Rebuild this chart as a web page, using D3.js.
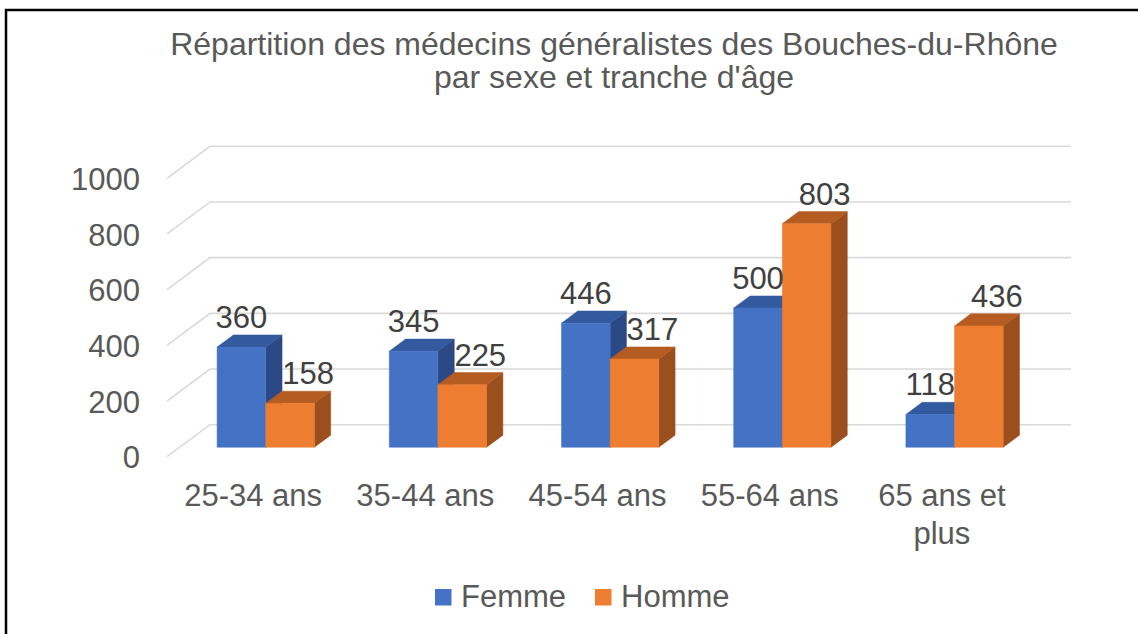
<!DOCTYPE html>
<html>
<head>
<meta charset="utf-8">
<script src="https://cdn.jsdelivr.net/npm/d3@7"></script>
<style>
  body { margin: 0; background: #fff; }
  svg text { font-family: "Liberation Sans", Arial, sans-serif; }
</style>
</head>
<body>
<svg class="plot" width="1138" height="634"></svg>
<script>
// data
var categories = ["25-34 ans", "35-44 ans", "45-54 ans", "55-64 ans", "65 ans et plus"];
var seriesNames = ["Femme", "Homme"];
var femme = [360, 345, 446, 500, 118];
var homme = [158, 225, 317, 803, 436];
var yTicks = [0, 200, 400, 600, 800, 1000];

var svg = d3.select(".plot");

// 3d box: front plane + depth vector
var front = {left: 167, right: 1028, bottom: 456.7, top: 178.3},
    depth = {dx: 43, dy: -32},
    barFront = 0.294, barBack = 0.673;

var x = d3.scaleBand().domain(categories).range([front.left, front.right])
    .paddingInner(0.435).paddingOuter(0.2175);
var xs = d3.scaleBand().domain(seriesNames).range([0, x.bandwidth()]);
var y = d3.scaleLinear().domain([0, 1000]).range([front.bottom, front.top]);

var colors = {
  Femme: {front: "#4472C4", top: "#335A9E", side: "#2B4984"},
  Homme: {front: "#ED7D31", top: "#B55C22", side: "#9A4F1D"}
};

// outer frame
svg.append("rect")
    .attr("x", 6).attr("y", 10)
    .attr("width", 1150).attr("height", 650)
    .attr("fill", "none")
    .attr("stroke", "#000")
    .attr("stroke-width", 2.5);

// title
svg.append("text")
    .attr("x", 614).attr("y", 55)
    .attr("text-anchor", "middle")
    .style("font-size", "32px")
    .style("fill", "#595959")
    .text("Répartition des médecins généralistes des Bouches-du-Rhône");
svg.append("text")
    .attr("x", 614).attr("y", 88)
    .attr("text-anchor", "middle")
    .style("font-size", "32px")
    .style("fill", "#595959")
    .text("par sexe et tranche d'âge");

// gridlines (side wall diagonal + back wall)
var grid = svg.append("g");
yTicks.forEach(function(t) {
  var p = [
    [front.left, y(t)],
    [front.left + depth.dx, y(t) + depth.dy],
    [front.right + depth.dx, y(t) + depth.dy]
  ];
  grid.append("path")
      .attr("d", d3.line()(p))
      .attr("fill", "none")
      .attr("stroke", "#D9D9D9")
      .attr("stroke-width", 1.6);
});

// y axis labels
var yAxis = svg.append("g")
    .attr("transform", "translate(" + front.left + ",0)")
    .call(d3.axisLeft(y).tickValues(yTicks).tickFormat(d3.format("d")).tickSize(0).tickPadding(27));
yAxis.select(".domain").remove();
yAxis.selectAll("text")
    .attr("dy", "0.36em")
    .style("font-size", "31px")
    .style("font-family", "Liberation Sans, Arial, sans-serif")
    .style("fill", "#595959");

// x axis labels
var xAxis = svg.append("g")
    .attr("transform", "translate(0," + front.bottom + ")")
    .call(d3.axisBottom(x).tickSize(0).tickPadding(27.5));
xAxis.select(".domain").remove();
xAxis.selectAll("text")
    .style("font-size", "31px")
    .style("font-family", "Liberation Sans, Arial, sans-serif")
    .style("fill", "#595959")
    .call(wrap, x.step());

function wrap(texts, width) {
  texts.each(function() {
    var text = d3.select(this),
        words = text.text().split(/\s+/),
        line = [], lines = [];
    words.forEach(function(w) {
      line.push(w);
      text.text(line.join(" "));
      if (this.getComputedTextLength() > width - 10 && line.length > 1) {
        line.pop();
        lines.push(line.join(" "));
        line = [w];
      }
    }, this);
    lines.push(line.join(" "));
    var ty = text.attr("y"), tdy = text.attr("dy");
    text.text(null);
    lines.forEach(function(l, i) {
      text.append("tspan")
          .attr("x", 0).attr("y", ty)
          .attr("dy", i === 0 ? tdy : (38 / 31 * i + parseFloat(tdy)) + "em")
          .text(l);
    });
  });
}

// bars
var rows = categories.map(function(c, i) {
  return {cat: c, values: [
    {name: "Femme", value: femme[i]},
    {name: "Homme", value: homme[i]}
  ]};
});

function box(d, cat) {
  var x0 = x(cat) + xs(d.name) + barFront * depth.dx,
      x1 = x0 + xs.bandwidth(),
      yb = y(0) + barFront * depth.dy,
      yt = y(d.value) + barFront * depth.dy,
      ddx = (barBack - barFront) * depth.dx,
      ddy = (barBack - barFront) * depth.dy;
  return {
    front: [[x0, yb], [x0, yt], [x1, yt], [x1, yb]],
    top: [[x0, yt], [x0 + ddx, yt + ddy], [x1 + ddx, yt + ddy], [x1, yt]],
    side: [[x1, yb], [x1, yt], [x1 + ddx, yt + ddy], [x1 + ddx, yb + ddy]],
    cx: (x0 + x1) / 2,
    yt: yt
  };
}

var groups = svg.selectAll(".cat-g")
    .data(rows)
    .enter().append("g")
    .attr("class", "cat-g");

groups.each(function(row) {
  var g = d3.select(this);
  row.values.forEach(function(d) {
    var b = box(d, row.cat);
    ["side", "top", "front"].forEach(function(face) {
      g.append("path")
          .attr("d", d3.line()(b[face]) + "Z")
          .attr("fill", colors[d.name][face])
          .attr("stroke", colors[d.name][face])
          .attr("stroke-width", 0.5);
    });
  });
});

// data labels
groups.each(function(row) {
  var g = d3.select(this);
  row.values.forEach(function(d) {
    var b = box(d, row.cat);
    g.append("text")
        .attr("x", b.cx + (d.name === "Homme" ? 18 : 0))
        .attr("y", b.yt - 19)
        .attr("text-anchor", "middle")
        .style("font-size", "31px")
        .style("fill", "#404040")
        .text(d.value);
  });
});

// legend
var legendX = [435, 595];
var legend = svg.selectAll(".legend")
    .data(seriesNames)
    .enter().append("g")
    .attr("class", "legend")
    .attr("transform", function(d, i) { return "translate(" + legendX[i] + ",589)"; });
legend.append("rect")
    .attr("width", 16.5).attr("height", 16.5)
    .attr("fill", function(d) { return colors[d].front; });
legend.append("text")
    .attr("x", 26).attr("y", 17.5)
    .style("font-size", "31px")
    .style("fill", "#595959")
    .text(function(d) { return d; });
</script>
</body>
</html>
